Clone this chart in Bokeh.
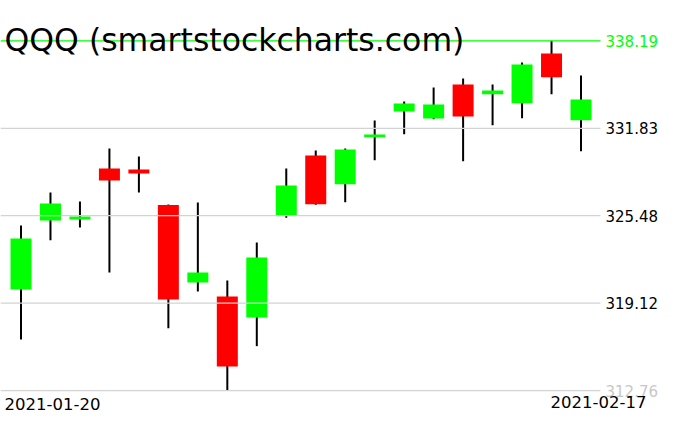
from bokeh.plotting import figure
from bokeh.models import Range1d, Label, ColumnDataSource
from bokeh.embed import file_html
from bokeh.resources import INLINE
from bokeh.core.properties import value

# ---------------- data ----------------
dates = ["2021-01-20", "2021-01-21", "2021-01-22", "2021-01-25", "2021-01-26",
         "2021-01-27", "2021-01-28", "2021-01-29", "2021-02-01", "2021-02-02",
         "2021-02-03", "2021-02-04", "2021-02-05", "2021-02-08", "2021-02-09",
         "2021-02-10", "2021-02-11", "2021-02-12", "2021-02-16", "2021-02-17"]
opens  = [320.12, 325.13, 325.20, 328.91, 328.84, 326.25, 320.62, 319.61, 318.08, 325.49,
          329.85, 327.77, 331.18, 333.05, 332.54, 335.01, 334.31, 333.66, 337.27, 332.42]
highs  = [324.77, 327.17, 326.51, 330.36, 329.78, 326.30, 326.44, 320.77, 323.53, 328.91,
          330.22, 330.36, 332.40, 333.78, 334.80, 335.45, 335.01, 336.61, 338.19, 335.67]
lows   = [316.48, 323.70, 324.62, 321.35, 327.17, 317.30, 319.97, 312.76, 316.00, 325.33,
          326.27, 326.46, 329.51, 331.40, 332.49, 329.44, 332.06, 332.56, 334.31, 330.17]
closes = [323.82, 326.37, 325.42, 328.04, 328.55, 319.39, 321.35, 314.52, 322.44, 327.67,
          326.32, 330.29, 331.38, 333.63, 333.56, 332.69, 334.58, 336.47, 335.54, 333.92]
level_values = [338.19, 331.83, 325.48, 319.12, 312.76]
level_labels = ["338.19", "331.83", "325.48", "319.12", "312.76"]
title_text = "QQQ (smartstockcharts.com)"

# ---------------- layout ----------------
W, H = 660, 415
BAR_PX = 29.474          # pixels between candle centres
FIRST_PX = 20.5          # first candle centre from left edge
PX_PER_UNIT = 13.76      # pixels per price unit
TOP_VAL = 341.119        # price at top edge
GRID_END_PX = 600        # where horizontal lines stop

GREEN = "#00ff00"
RED = "#ff0000"
GRID = "#d3d3d3"

x0 = -FIRST_PX / BAR_PX
x_range = Range1d(x0, x0 + W / BAR_PX)
y_range = Range1d(TOP_VAL - H / PX_PER_UNIT, TOP_VAL)
x_grid_end = x0 + GRID_END_PX / BAR_PX

p = figure(width=W, height=H, x_range=x_range, y_range=y_range,
           output_backend="svg", toolbar_location=None, min_border=0,
           background_fill_color="white", border_fill_color="white")
p.xaxis.visible = False
p.yaxis.visible = False
p.grid.visible = False
p.outline_line_color = None

idx = list(range(len(dates)))
src = ColumnDataSource(dict(
    x=idx,
    high=highs,
    low=lows,
    top=[max(o, c) for o, c in zip(opens, closes)],
    bottom=[min(o, c) for o, c in zip(opens, closes)],
    color=[GREEN if c >= o else RED for o, c in zip(opens, closes)],
))

# wicks
p.segment(x0="x", y0="low", x1="x", y1="high", source=src,
          line_color="black", line_width=2)
# bodies
p.vbar(x="x", top="top", bottom="bottom", width=21 / BAR_PX, source=src,
       fill_color="color", line_color=None)

# horizontal level lines (drawn on top of candles)
n = len(level_values)
lsrc = ColumnDataSource(dict(
    x0=[x0] * n, x1=[x_grid_end] * n, y=level_values,
    lc=[GREEN] + [GRID] * (n - 1),
    label=level_labels,
    tc=[GREEN] + ["black"] * (n - 2) + ["#c8c8c8"],
    tx=[x_grid_end] * n,
))
p.segment(x0="x0", y0="y", x1="x1", y1="y", source=lsrc,
          line_color="lc", line_width=1.3)
p.text(x="tx", y="y", text="label", source=lsrc, x_offset=5,
       text_color="tc", text_font=value("DejaVu Sans"), text_font_size="15px",
       text_baseline="alphabetic", text_align="left")

# title
p.add_layout(Label(x=4, y=H - 39.5, x_units="screen", y_units="screen",
                   text=title_text, text_font="DejaVu Sans", text_font_size="31.5px",
                   text_color="black", text_baseline="alphabetic", text_align="left"))
# date labels
p.add_layout(Label(x=4, y=H - 403, x_units="screen", y_units="screen",
                   text=dates[0], text_font="DejaVu Sans", text_font_size="16.5px",
                   text_color="black", text_baseline="alphabetic", text_align="left"))
p.add_layout(Label(x=646, y=H - 401, x_units="screen", y_units="screen",
                   text=dates[-1], text_font="DejaVu Sans", text_font_size="16.5px",
                   text_color="black", text_baseline="alphabetic", text_align="right"))

open("out.html", "w").write(file_html(p, INLINE))
